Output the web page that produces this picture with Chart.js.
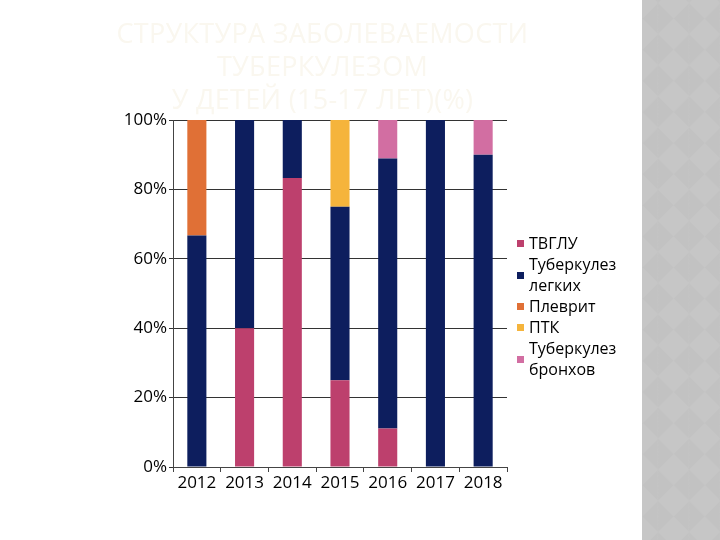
<!DOCTYPE html>
<html>
<head>
<meta charset="utf-8">
<script src="https://cdn.jsdelivr.net/npm/chart.js@4"></script>
<style>
  html, body { margin: 0; padding: 0; background: #fff; }
  #wrap { position: relative; width: 720px; height: 540px; overflow: hidden; }
  #chart { position: absolute; left: 0; top: 0; }
  #strip {
    position: absolute; left: 642px; top: 0; width: 78px; height: 540px;
    background-color: #c6c6c6; overflow: hidden;
  }
  #strip .pat {
    position: absolute; left: -250px; top: -150px; width: 600px; height: 900px;
    transform: rotate(45deg);
    background-image:
      linear-gradient(45deg, #bfbfbf 25%, transparent 25%, transparent 75%, #bfbfbf 75%),
      linear-gradient(45deg, #bfbfbf 25%, transparent 25%, transparent 75%, #bfbfbf 75%);
    background-size: 44px 44px;
    background-position: 0 0, 22px 22px;
    opacity: 0.45;
  }
  #title {
    position: absolute; left: 40px; width: 565px; top: 16px;
    text-align: center; font-family: "Open Sans", sans-serif; font-size: 27px;
    line-height: 33px; color: #faf7ef; letter-spacing: 0.3px;
  }
  #legend {
    position: absolute; left: 517px; top: 233px;
    font-family: "Open Sans", sans-serif; font-size: 16px; line-height: 21px; color: #000;
  }
  .item { display: flex; align-items: center; }
  .sw { width: 7px; height: 7px; margin-right: 5px; flex: none; }
  .txt { width: 100px; }
</style>
</head>
<body>
<div id="wrap">
  <canvas id="chart" width="720" height="540"></canvas>
  <div id="strip"><div class="pat"></div></div>
  <div id="title">СТРУКТУРА ЗАБОЛЕВАЕМОСТИ<br>ТУБЕРКУЛЕЗОМ<br>У ДЕТЕЙ (15-17 ЛЕТ)(%)</div>
  <div id="legend"></div>
</div>
<script>
// ===== Data =====
const years = ['2012', '2013', '2014', '2015', '2016', '2017', '2018'];
const tvglu = [0, 40, 83.3, 25, 11.1, 0, 0];
const lungs = [66.7, 60, 16.7, 50, 77.8, 100, 90];
const pleurisy = [33.3, 0, 0, 0, 0, 0, 0];
const ptk = [0, 0, 0, 25, 0, 0, 0];
const bronchi = [0, 0, 0, 0, 11.1, 0, 10];
const yTicks = [0, 20, 40, 60, 80, 100];

const series = [
  { label: 'ТВГЛУ', data: tvglu, color: '#bd406d' },
  { label: 'Туберкулез легких', data: lungs, color: '#0d1e5e' },
  { label: 'Плеврит', data: pleurisy, color: '#e07036' },
  { label: 'ПТК', data: ptk, color: '#f5b43c' },
  { label: 'Туберкулез бронхов', data: bronchi, color: '#d26ea2' },
];

// ===== Legend (html, wraps long labels) =====
const legendEl = document.getElementById('legend');
series.forEach(s => {
  const item = document.createElement('div');
  item.className = 'item';
  item.innerHTML = `<span class="sw" style="background:${s.color}"></span><span class="txt">${s.label}</span>`;
  legendEl.appendChild(item);
});

// ===== Chart =====
const ctx = document.getElementById('chart').getContext('2d');
new Chart(ctx, {
  type: 'bar',
  data: {
    labels: years,
    datasets: series.map(s => ({
      label: s.label,
      data: s.data,
      backgroundColor: s.color,
      borderWidth: 0,
      barPercentage: 0.4,
      categoryPercentage: 1.0,
    })),
  },
  options: {
    responsive: false,
    animation: false,
    layout: { padding: { left: 113, right: 213, top: 120, bottom: 43 } },
    plugins: { legend: { display: false }, tooltip: { enabled: false }, title: { display: false } },
    scales: {
      x: {
        stacked: true,
        afterFit: (scale) => { scale.height = 30; },
        grid: { offset: true, drawOnChartArea: false, drawTicks: true, tickLength: 5, color: '#444' },
        border: { color: '#444', width: 1 },
        ticks: { color: '#000', font: { family: 'Open Sans', size: 17 }, padding: 1 },
      },
      y: {
        stacked: true,
        min: 0,
        max: 100,
        afterFit: (scale) => { scale.width = 60; },
        afterBuildTicks: (scale) => { scale.ticks = yTicks.map(v => ({ value: v })); },
        grid: { color: '#333', lineWidth: 1, drawTicks: true, tickLength: 4 },
        border: { color: '#444', width: 1 },
        ticks: {
          color: '#000',
          font: { family: 'Open Sans', size: 17 },
          padding: 2,
          callback: (v) => v + '%',
        },
      },
    },
  },
});
</script>
</body>
</html>
